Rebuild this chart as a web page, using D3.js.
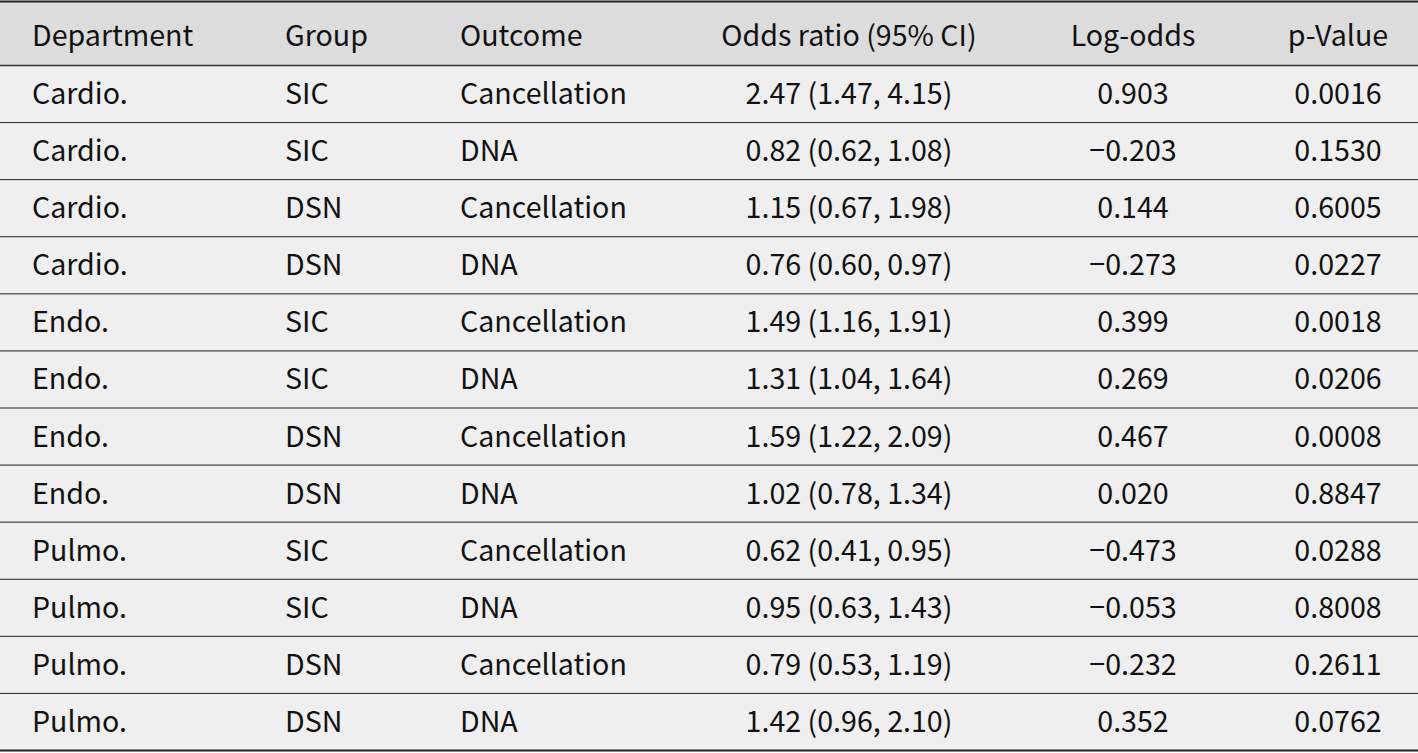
<!DOCTYPE html>
<html>
<head>
<meta charset="utf-8">
<script src="https://cdn.jsdelivr.net/npm/d3@7"></script>
<style>
  body { margin: 0; background: #fff; }
  svg text { font-family: "Noto Sans CJK SC", "Noto Sans", sans-serif; fill: #111; }
</style>
</head>
<body>
<div id="table"></div>
<script>
// === Table data ===
const headers = ["Department", "Group", "Outcome", "Odds ratio (95% CI)", "Log-odds", "p-Value"];
const departments = ["Cardio.", "Cardio.", "Cardio.", "Cardio.", "Endo.", "Endo.", "Endo.", "Endo.", "Pulmo.", "Pulmo.", "Pulmo.", "Pulmo."];
const groups = ["SIC", "SIC", "DSN", "DSN", "SIC", "SIC", "DSN", "DSN", "SIC", "SIC", "DSN", "DSN"];
const outcomes = ["Cancellation", "DNA", "Cancellation", "DNA", "Cancellation", "DNA", "Cancellation", "DNA", "Cancellation", "DNA", "Cancellation", "DNA"];
const oddsRatio = [2.47, 0.82, 1.15, 0.76, 1.49, 1.31, 1.59, 1.02, 0.62, 0.95, 0.79, 1.42];
const ciLow = [1.47, 0.62, 0.67, 0.60, 1.16, 1.04, 1.22, 0.78, 0.41, 0.63, 0.53, 0.96];
const ciHigh = [4.15, 1.08, 1.98, 0.97, 1.91, 1.64, 2.09, 1.34, 0.95, 1.43, 1.19, 2.10];
const logOdds = [0.903, -0.203, 0.144, -0.273, 0.399, 0.269, 0.467, 0.020, -0.473, -0.053, -0.232, 0.352];
const pValues = [0.0016, 0.1530, 0.6005, 0.0227, 0.0018, 0.0206, 0.0008, 0.8847, 0.0288, 0.8008, 0.2611, 0.0762];

const width = 1418;
const height = 753;
const tableTop = 1.5, headerH = 64, tableBottom = 750.5;

const fmt2 = d3.format(".2f");
const fmt3 = d3.format(".3f");   // d3 uses the real minus sign
const fmt4 = d3.format(".4f");

const rows = departments.map((d, i) => [
  d,
  groups[i],
  outcomes[i],
  `${fmt2(oddsRatio[i])} (${fmt2(ciLow[i])}, ${fmt2(ciHigh[i])})`,
  fmt3(logOdds[i]),
  fmt4(pValues[i])
]);

// column anchor positions
const cols = [
  { x: 32, anchor: "start" },
  { x: 285, anchor: "start" },
  { x: 460, anchor: "start" },
  { x: 849, anchor: "middle" },
  { x: 1133, anchor: "middle" },
  { x: 1338, anchor: "middle" }
];

const y = d3.scaleBand()
  .domain(d3.range(rows.length))
  .range([tableTop + headerH, tableBottom]);

const svg = d3.select("#table")
  .append("svg")
  .attr("width", width)
  .attr("height", height);

// backgrounds
svg.append("rect")
  .attr("x", 0).attr("y", tableTop)
  .attr("width", width).attr("height", headerH)
  .attr("fill", "#dcdcdd");

svg.append("rect")
  .attr("x", 0).attr("y", tableTop + headerH)
  .attr("width", width).attr("height", tableBottom - tableTop - headerH)
  .attr("fill", "#eeefee");

// row separators
svg.append("g")
  .selectAll("line")
  .data(d3.range(1, rows.length))
  .join("line")
  .attr("x1", 0).attr("x2", width)
  .attr("y1", d => y(d)).attr("y2", d => y(d))
  .attr("stroke", "#222")
  .attr("stroke-width", 1);

// rules
svg.append("line")
  .attr("x1", 0).attr("x2", width)
  .attr("y1", tableTop).attr("y2", tableTop)
  .attr("stroke", "#222").attr("stroke-width", 2);
svg.append("line")
  .attr("x1", 0).attr("x2", width)
  .attr("y1", tableTop + headerH).attr("y2", tableTop + headerH)
  .attr("stroke", "#333").attr("stroke-width", 1.5);
svg.append("line")
  .attr("x1", 0).attr("x2", width)
  .attr("y1", tableBottom).attr("y2", tableBottom)
  .attr("stroke", "#222").attr("stroke-width", 2);

const fontSize = 28.6;

// header
svg.append("g")
  .selectAll("text")
  .data(headers)
  .join("text")
  .attr("x", (d, i) => cols[i].x)
  .attr("y", tableTop + headerH / 2 + 2.5)
  .attr("dy", "0.35em")
  .attr("text-anchor", (d, i) => cols[i].anchor)
  .attr("font-size", fontSize)
  .text(d => d);

// body
const rowG = svg.append("g")
  .selectAll("g")
  .data(rows)
  .join("g")
  .attr("transform", (d, i) => `translate(0,${y(i) + y.bandwidth() / 2})`);

rowG.selectAll("text")
  .data(d => d)
  .join("text")
  .attr("x", (d, i) => cols[i].x)
  .attr("dy", "0.35em")
  .attr("text-anchor", (d, i) => cols[i].anchor)
  .attr("font-size", fontSize)
  .text(d => d);
</script>
</body>
</html>
